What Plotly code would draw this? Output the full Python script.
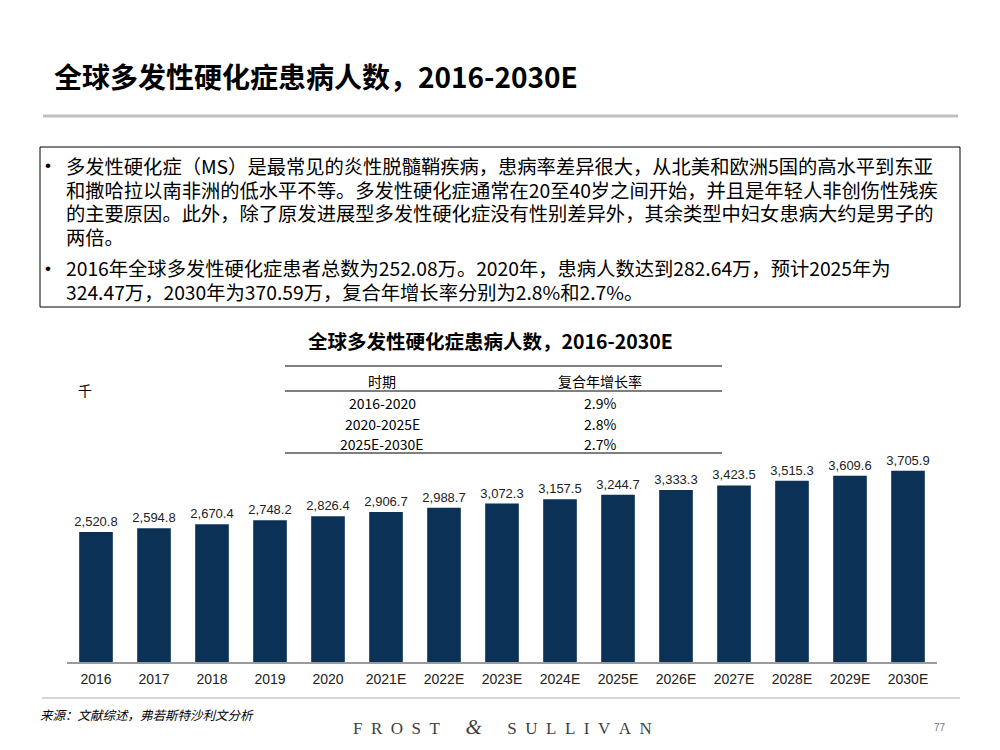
"""Slide: global MS patient count 2016-2030E, rebuilt in Plotly."""

import plotly.graph_objects as go

years = ["2016", "2017", "2018", "2019", "2020", "2021E", "2022E", "2023E",
         "2024E", "2025E", "2026E", "2027E", "2028E", "2029E", "2030E"]
patients = [2520.8, 2594.8, 2670.4, 2748.2, 2826.4, 2906.7, 2988.7, 3072.3,
            3157.5, 3244.7, 3333.3, 3423.5, 3515.3, 3609.6, 3705.9]
cagr_periods = ["2016-2020", "2020-2025E", "2025E-2030E"]
cagr_values = ["2.9%", "2.8%", "2.7%"]

title = "全球多发性硬化症患病人数，2016-2030E"
bullet_1 = [
    "多发性硬化症（MS）是最常见的炎性脱髓鞘疾病，患病率差异很大，从北美和欧洲5国的高水平到东亚",
    "和撒哈拉以南非洲的低水平不等。多发性硬化症通常在20至40岁之间开始，并且是年轻人非创伤性残疾",
    "的主要原因。此外，除了原发进展型多发性硬化症没有性别差异外，其余类型中妇女患病大约是男子的",
    "两倍。",
]
bullet_2 = [
    "2016年全球多发性硬化症患者总数为252.08万。2020年，患病人数达到282.64万，预计2025年为",
    "324.47万，2030年为370.59万，复合年增长率分别为2.8%和2.7%。",
]

# the page body has an 8px margin, so the figure is shrunk and shifted to match
OFF = 8
W, H = 1000 - 2 * OFF, 750 - 2 * OFF
CJK = "Noto Sans CJK SC"
ARIAL = "Liberation Sans, Arial"
BAR = "#0B3157"


def px(x):
    return (x - OFF) / W


def py(y):
    return 1 - (y - OFF) / H


def note(x, y, text, size, family=CJK, color="#000000", anchor="left"):
    return dict(x=px(x), y=py(y), xref="paper", yref="paper", text=text,
                xanchor=anchor, yanchor="middle", showarrow=False,
                font={"family": family, "size": size, "color": color})


def hline(x0, x1, y, color, width):
    return dict(type="line", xref="paper", yref="paper", x0=px(x0), x1=px(x1),
                y0=py(y), y1=py(y), line={"color": color, "width": width})


fig = go.Figure()
fig.add_trace(
    go.Bar(
        x=years,
        y=patients,
        marker={"color": BAR, "line": {"width": 0}},
        text=[f"{v:,.1f}" for v in patients],
        textposition="outside",
        constraintext="none",
        textfont={"family": ARIAL, "size": 13, "color": "#222222"},
        cliponaxis=False,
    )
)

notes = []
shapes = []

# page title + rule
notes.append(note(52, 76, f"<b>{title}</b>", 28))
shapes.append(hline(43, 958, 116, "#BFBFBF", 3))

# text box
shapes.append(dict(type="rect", xref="paper", yref="paper", x0=px(40), x1=px(960),
                   y0=py(147), y1=py(307), line={"color": "#000000", "width": 1}))
for lines, y0 in [(bullet_1, 166), (bullet_2, 268)]:
    notes.append(note(48, y0, "•", 17, family=ARIAL, anchor="center"))
    for i, line in enumerate(lines):
        notes.append(note(64, y0 + i * 23.7, line, 19.3))

# chart title and unit
notes.append(note(490, 340, f"<b>{title}</b>", 19.5, anchor="center"))
notes.append(note(85, 390, "千", 14, anchor="center"))

# CAGR table
for yy in (366, 391, 453):
    shapes.append(hline(285, 722, yy, "#000000", 1.2))
notes.append(note(382, 381, "时期", 14, anchor="center"))
notes.append(note(600, 381, "复合年增长率", 14, anchor="center"))
for i, (period, rate) in enumerate(zip(cagr_periods, cagr_values)):
    yy = 403 + i * 20.5
    notes.append(note(382, yy, period, 14, anchor="center"))
    notes.append(note(600, yy, rate, 14, anchor="center"))

# footer
shapes.append(hline(42, 960, 698, "#C8C8C8", 1.5))
notes.append(note(38, 714, "<i>来源：文献综述，弗若斯特沙利文分析</i>", 12.5))
brand = ("&nbsp;&nbsp;".join("FROST") + "&nbsp;" * 6
         + "<span style='font-size:21px'><i>&amp;</i></span>"
         + "&nbsp;" * 6 + "&nbsp;&nbsp;".join("SULLIVAN"))
notes.append(note(502, 727, brand, 17, family="Liberation Serif", color="#404040", anchor="center"))
notes.append(note(940, 727, "77", 10, family=ARIAL, color="#777777", anchor="center"))

fig.update_layout(
    width=W,
    height=H,
    margin={"l": 0, "r": 0, "t": 0, "b": 0},
    paper_bgcolor="#FFFFFF",
    plot_bgcolor="rgba(0,0,0,0)",
    showlegend=False,
    bargap=0.42,
    xaxis={
        "domain": [px(67), px(937)],
        "showline": True,
        "linecolor": "#9A9A9A",
        "linewidth": 1.5,
        "ticks": "",
        "ticklabelstandoff": 3,
        "tickfont": {"family": ARIAL, "size": 14, "color": "#222222"},
        "showgrid": False,
        "fixedrange": True,
    },
    yaxis={
        "domain": [py(662), py(455.7)],
        "range": [0, 4000],
        "visible": False,
        "showgrid": False,
        "fixedrange": True,
    },
    annotations=notes,
    shapes=shapes,
)

fig.write_html("out.html")
